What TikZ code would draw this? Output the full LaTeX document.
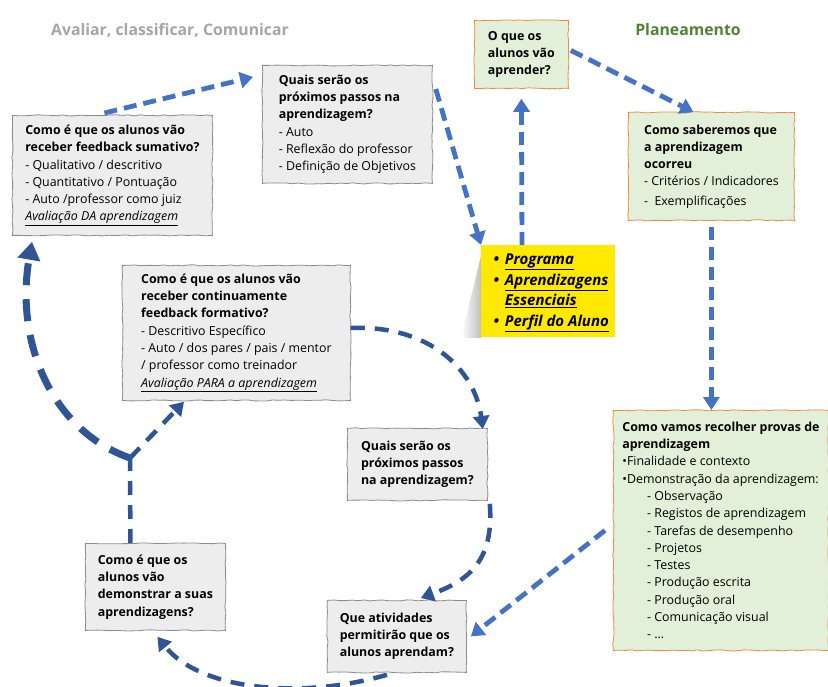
\documentclass[tikz,border=0pt]{standalone}
\usepackage{fontspec}
\setmainfont{Open Sans}
\usetikzlibrary{arrows.meta,decorations.pathmorphing}

\definecolor{boxgray}{HTML}{EDEDED}
\definecolor{edgegray}{HTML}{8C8C8C}
\definecolor{planfill}{HTML}{E2EFD9}
\definecolor{planedge}{HTML}{F08A3C}
\definecolor{noteyellow}{HTML}{FFE900}
\definecolor{lightarrow}{HTML}{4472C4}
\definecolor{darkarrow}{HTML}{2F5597}
\definecolor{titlegray}{HTML}{A6A6A6}
\definecolor{titlegreen}{HTML}{548235}

\begin{document}
\pgfmathsetseed{11}
\begin{tikzpicture}[x=1pt,y=-1pt,
    sketch/.style={decorate,decoration={random steps,segment length=6pt,amplitude=0.6pt}},
    qbox/.style={sketch,draw=edgegray,fill=boxgray,line width=0.8pt,anchor=north west,
        align=left,inner sep=0pt,font=\fontsize{12.4}{17.3}\selectfont},
    planbox/.style={qbox,draw=planedge,fill=planfill},
    flow/.style={lightarrow,line width=4.8pt,dash pattern=on 13pt off 7pt,
        -{Triangle[length=13pt,width=16pt]}},
    cyc/.style={darkarrow,line width=4.5pt,dash pattern=on 14pt off 10pt,
        -{Triangle[length=13pt,width=16pt]}},
    ]
    \useasboundingbox[fill=white] (0,0) rectangle (828,687);

    % titles
    \node[titlegray,font=\fontsize{15.8}{18}\selectfont\bfseries] (avaliar) at (170,30) {Avaliar, classificar, Comunicar};
    \node[titlegreen,font=\fontsize{15.8}{18}\selectfont\bfseries] (planeamento) at (688,30) {Planeamento};

    % gray questions
    \node[qbox,minimum width=200pt,minimum height=120pt] (sumativo) at (12,115) {%
        \textbf{Como é que os alunos vão}\\
        \textbf{receber feedback sumativo?}\\
        - Qualitativo / descritivo\\
        - Quantitativo / Pontuação\\
        - Auto /professor como juiz\\
        \textit{\underline{Avaliação DA aprendizagem}}};
    \node[qbox,minimum width=170pt,minimum height=118pt] (passos) at (262,65) {%
        \textbf{Quais serão os}\\
        \textbf{próximos passos na}\\
        \textbf{aprendizagem?}\\
        - Auto\\
        - Reflexão do professor\\
        - Definição de Objetivos};
    \node[qbox,minimum width=228pt,minimum height=135pt] (formativo) at (122,265) {%
        \textbf{Como é que os alunos vão}\\
        \textbf{receber continuamente}\\
        \textbf{feedback formativo?}\\
        - Descritivo Específico\\
        - Auto / dos pares / pais / mentor\\
        / professor como treinador\\
        \textit{\underline{Avaliação PARA a aprendizagem}}};
    \node[qbox,minimum width=140pt,minimum height=72pt] (proximos) at (347,428) {%
        \textbf{Quais serão os}\\
        \textbf{próximos passos}\\
        \textbf{na aprendizagem?}};
    \node[qbox,minimum width=140pt,minimum height=87pt] (demonstrar) at (85,543) {%
        \textbf{Como é que os}\\
        \textbf{alunos vão}\\
        \textbf{demonstrar a suas}\\
        \textbf{aprendizagens?}};
    \node[qbox,minimum width=139pt,minimum height=72pt] (atividades) at (327,600) {%
        \textbf{Que atividades}\\
        \textbf{permitirão que os}\\
        \textbf{alunos aprendam?}};

    % planning boxes
    \node[planbox,minimum width=94pt,minimum height=68pt] (aprender) at (474,20) {%
        \textbf{O que os}\\
        \textbf{alunos vão}\\
        \textbf{aprender?}};
    \node[planbox,minimum width=166pt,minimum height=108pt] (saberemos) at (628,112) {%
        \textbf{Como saberemos que}\\
        \textbf{a aprendizagem}\\
        \textbf{ocorreu}\\
        - Critérios / Indicadores\\[2pt]
        -\ \ Exemplificações};
    \node[planbox,minimum width=215pt,minimum height=240pt] (provas) at (613,410) {%
        \textbf{Como vamos recolher provas de}\\
        \textbf{aprendizagem}\\
        \textbullet Finalidade e contexto\\
        \textbullet Demonstração da aprendizagem:\\
        \hspace*{2em}- Observação\\
        \hspace*{2em}- Registos de aprendizagem\\
        \hspace*{2em}- Tarefas de desempenho\\
        \hspace*{2em}- Projetos\\
        \hspace*{2em}- Testes\\
        \hspace*{2em}- Produção escrita\\
        \hspace*{2em}- Produção oral\\
        \hspace*{2em}- Comunicação visual\\
        \hspace*{2em}- ...};

    % yellow note
    \shade[left color=white,right color=black!25] (461,338) -- (481,256) -- (481,338) -- cycle;
    \node[fill=noteyellow,anchor=north west,minimum width=134pt,minimum height=92pt,inner sep=0pt,
        font=\fontsize{15}{20.5}\selectfont\bfseries\itshape] (documentos) at (481,245) {%
        \begin{tabular}{@{}c@{\hspace{6pt}}l@{}}
        \textbullet & \underline{Programa}\\
        \textbullet & \underline{Aprendizagens}\\
                    & \underline{Essenciais}\\
        \textbullet & \underline{Perfil do Aluno}
        \end{tabular}\hspace*{-6pt}};

    % planning cycle
    \draw[flow] ([xshift=-8pt,yshift=2pt]sumativo.north) -- ([xshift=-9pt,yshift=-12pt]passos.north west);
    \draw[flow] ([xshift=3pt,yshift=-24pt]passos.north east) -- (documentos.north west);
    \draw[flow] ([xshift=41pt]documentos.north west) -- ([yshift=-10pt]aprender.south);
    \draw[flow] ([xshift=2pt,yshift=4pt]aprender.east) -- ([xshift=-18pt]saberemos.north);
    \draw[flow] ([yshift=-6pt]saberemos.south) -- (saberemos.south |- provas.north);
    \draw[flow] ([xshift=-8pt]provas.west) -- ([xshift=4pt]atividades.east);

    % learning cycle
    \coordinate (fork) at (130,458);
    \draw[cyc] ([xshift=-10pt,yshift=-2pt]atividades.south) .. controls (300,700) and (200,690) .. ([xshift=2pt,yshift=-6pt]demonstrar.south);
    \draw[cyc,-] ([xshift=-25pt]demonstrar.north) -- (fork);
    \draw[cyc,line width=7pt,dash pattern=on 22pt off 14pt,-{Triangle[length=18pt,width=22pt]}]
        (fork) .. controls (50,430) and (15,340) .. ([xshift=20pt,yshift=-6pt]sumativo.south west);
    \draw[cyc] (fork) -- ([xshift=62pt,yshift=-1pt]formativo.south west);
    \draw[cyc] ([yshift=5pt]formativo.east) .. controls (430,325) and (475,370) .. ([xshift=-5pt,yshift=-1pt]proximos.north east);
    \draw[cyc] ([xshift=2pt,yshift=-3pt]proximos.south east) .. controls (494,560) and (470,580) .. ([xshift=-46pt,yshift=2pt]atividades.north east);
\end{tikzpicture}
\end{document}
